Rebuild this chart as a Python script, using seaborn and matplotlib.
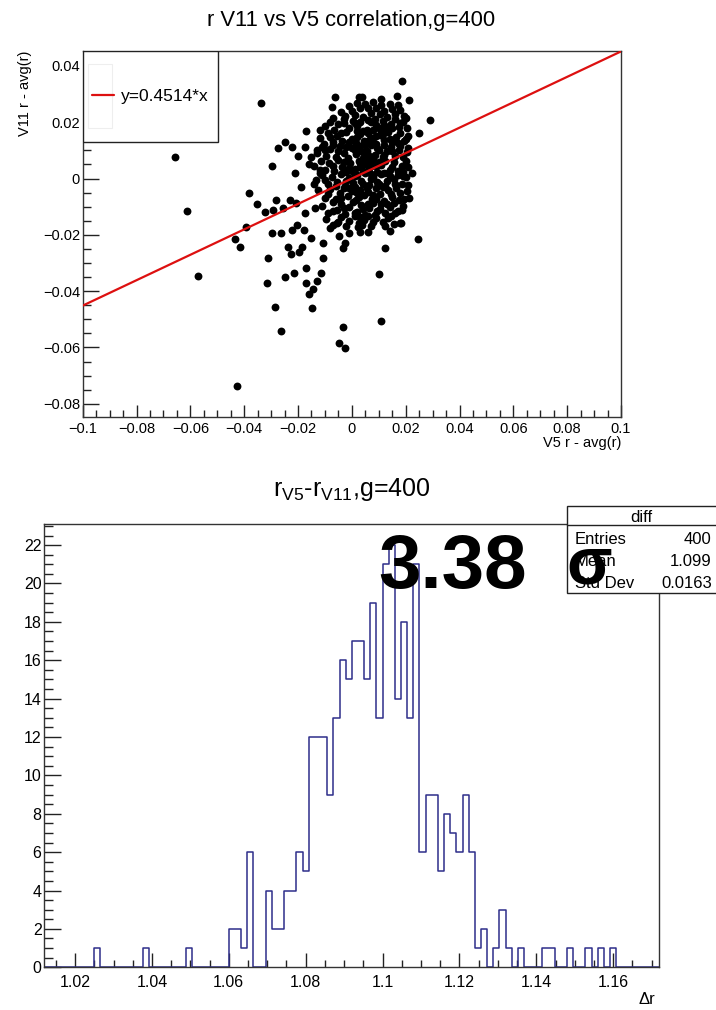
import numpy as np
import pandas as pd
import matplotlib
matplotlib.use("Agg")
import matplotlib.pyplot as plt
import seaborn as sns
from matplotlib.patches import Rectangle
from matplotlib.lines import Line2D
from matplotlib.ticker import MultipleLocator, FuncFormatter

# ---- scatter data: (V5 r - avg(r), V11 r - avg(r)) in units of 1e-3 ----
tail_pts = [
    (-65.8, 7.7), (-33.6, 26.7), (-61.4, -11.4), (-38.2, -5.3), (-35.4, -9.0),
    (-29.6, 4.5), (-27.4, 10.7), (-24.9, 13.1), (-22.4, 11.3), (-17.5, 11.3),
    (-17.1, 17.0), (-15.0, 7.7), (-11.9, 17.2), (-6.3, 29.0), (-7.5, 25.5),
    (-6.9, 21.4), (2.7, 28.8), (-28.0, -7.6), (-32.3, -11.8), (-29.2, -11.2),
    (-25.5, -10.6), (-23.0, -7.6), (-20.6, -8.8), (-17.5, -12.4), (-13.7, -10.6),
    (18.7, 34.6), (3.6, 28.8), (11.0, 28.2), (16.6, 29.4), (21.2, 27.9),
    (29.2, 20.8), (25.0, 16.0), (22.2, 2.1), (21.2, -6.8), (17.8, -15.7),
    (-57.1, -34.5), (-43.5, -21.5), (-41.6, -24.2), (-39.5, -17.3), (-42.8, -73.7),
    (-31.7, -37.2), (-31.3, -28.4), (-29.6, -19.5), (-28.6, -45.8), (-26.4, -19.5),
    (-26.4, -54.2), (-24.9, -34.9), (-23.7, -24.2), (-22.7, -26.8), (-22.4, -18.3),
    (-21.6, -33.7), (-20.2, -16.5), (-19.6, -26.0), (-18.7, -24.2), (-17.7, -18.3),
    (-17.1, -31.9), (-16.9, -37.0), (-16.0, -41.0), (-15.0, -21.2), (-14.8, -46.1),
    (-14.5, -39.4), (-12.8, -36.3), (-11.3, -33.7), (-10.7, -28.4), (-10.7, -23.0),
    (-8.2, -17.7), (-5.7, -15.9), (-4.7, -20.4), (-3.2, -24.8), (-2.6, -23.0),
    (-1.0, -19.5), (-3.2, -52.9), (-4.7, -58.5), (-2.6, -60.1), (2.3, -17.1),
    (3.0, -18.9), (6.1, -18.9), (3.6, -16.5), (14.1, -18.5), (18.2, -15.9),
    (24.4, -21.5), (12.3, -24.6), (10.1, -33.9), (10.8, -50.6),
    (-21.0, 2.0), (-19.0, -3.0), (-16.0, 5.0), (-14.0, -2.0), (-13.0, 10.0),
    (-12.0, 3.0), (-20.0, 8.0),
]

core_pts = [
    (-4, 23.5), (-1, 25.8), (1, 22.6), (3, 24.9), (5, 26.3), (7, 23.1), (9, 25.2),
    (12, 24.0), (14, 26.6), (16, 22.8), (18, 24.4), (19.5, 22.2), (-2.5, 22.1), (10.5, 22.9),
    (-10, 18.5), (-8, 20.1), (-5, 19.2), (-3, 21.3), (-1, 17.8), (0.5, 20.4), (2, 18.6),
    (4, 21.7), (5.5, 17.4), (7, 19.9), (8.5, 21.2), (10, 18.1), (11.5, 20.6), (13, 17.6),
    (14.5, 19.4), (16, 21.0), (17.5, 18.3), (19, 20.2), (20.5, 17.9), (-6.5, 17.2),
    (3, 20.0), (9, 19.0),
    (-12, 14.3), (-9, 16.1), (-7, 12.8), (-5.5, 15.2), (-3.5, 13.4), (-2, 16.6), (0, 14.1),
    (1.5, 12.5), (3, 15.7), (4.5, 13.3), (6, 16.2), (7.5, 14.4), (9, 12.2), (10.5, 15.5),
    (12, 13.7), (13.5, 16.4), (15, 12.9), (16.5, 14.8), (18, 16.0), (19.5, 13.5),
    (21, 15.1), (-10.5, 12.4), (2, 17.0), (8, 13.0), (11, 16.8), (5, 12.0),
    (-13, 9.1), (-11, 11.2), (-9.5, 8.0), (-8, 10.4), (-6, 7.6), (-4.5, 11.6), (-3, 9.2),
    (-1.5, 7.3), (0, 10.8), (1.5, 8.6), (3, 11.4), (4, 7.2), (5.5, 9.9), (7, 11.8),
    (8.5, 8.3), (10, 10.1), (11.5, 7.5), (13, 9.6), (14.5, 11.1), (16, 8.0), (17.5, 10.3),
    (19, 7.7), (20.5, 9.4), (-7, 12.0), (2.5, 9.8), (6, 8.5), (12, 11.9),
    (-14, 4.5), (-11.5, 6.1), (-10, 3.0), (-8.5, 5.4), (-6.5, 2.6), (-5, 6.7), (-3.5, 4.2),
    (-2, 2.3), (-0.5, 5.6), (1, 3.4), (2.5, 6.4), (4, 2.8), (5, 5.1), (6.5, 3.9),
    (8, 6.6), (9.5, 2.4), (11, 4.8), (12.5, 6.2), (14, 3.1), (15.5, 5.7), (17, 2.7),
    (18.5, 4.6), (20, 6.3), (-1, 3.8), (7, 4.5), (3, 4.1), (10, 6.0),
    (-13.5, -0.5), (-11, 1.3), (-9, -2.1), (-7.5, 0.6), (-5.5, -1.4), (-4, 1.7),
    (-2.5, -2.6), (-1, 0.2), (0.5, -1.7), (2, 1.1), (3.5, -0.8), (5, 1.9), (6.5, -2.3),
    (8, 0.4), (9.5, -1.1), (11, 1.6), (12.5, -2.7), (14, 0.9), (15.5, -0.3), (17, 1.4),
    (18.5, -1.9), (20, 0.7), (1, -2.9), (7, 0.0), (13, -1.0),
    (-12.5, -4.2), (-10, -6.8), (-8, -3.6), (-6, -7.4), (-4.5, -5.1), (-3, -3.3),
    (-1.5, -6.2), (0, -4.5), (1.5, -7.7), (3, -3.9), (4.5, -6.0), (6, -4.8), (7.5, -7.1),
    (9, -3.4), (10.5, -5.6), (12, -7.9), (13.5, -4.1), (15, -6.5), (16.5, -3.2),
    (18, -5.3), (19.5, -7.3), (2, -5.0), (8, -6.0),
    (-11, -9.6), (-9, -12.3), (-7, -8.5), (-5.5, -11.0), (-4, -9.0), (-2.5, -12.6),
    (-1, -10.2), (0.5, -8.3), (2, -11.8), (3.5, -9.4), (5, -12.9), (6.5, -10.5),
    (8, -8.8), (9.5, -11.4), (11, -9.1), (12.5, -12.2), (14, -10.0), (15.5, -8.6),
    (17, -11.6), (19, -9.8), (4, -10.8),
    (-9.5, -14.2), (-7, -16.4), (-4, -13.8), (-1, -15.1), (1, -13.4), (4.5, -14.7),
    (7, -16.9), (9, -13.9), (11.5, -15.6), (13.5, -14.0), (15.5, -16.3), (6, -13.2),
]

# extra points in the dense centre of the cloud
dense_pts = [
    (0, 24), (2, 26.8), (6, 25.0), (8, 27.2), (11, 26.0), (13, 22.0), (15, 24.8),
    (17, 26.2), (-3, 19.8), (1, 19.6), (6, 20.8), (8, 17.1), (12, 19.0), (15, 17.8),
    (18, 19.8), (20, 21.5),
    (-8, 14.9), (-4, 16.0), (-1, 12.8), (2, 14.6), (4, 16.8), (6.5, 13.8), (9, 15.0),
    (12, 16.0), (14, 13.9), (17, 12.6), (20, 14.2),
    (-10, 10.0), (-5, 9.6), (-2, 11.3), (1, 10.2), (4, 9.4), (7, 7.8), (9.5, 11.0),
    (12, 8.4), (15, 9.8), (18, 11.5), (21, 11.0),
    (-12, 2.0), (-7, 4.6), (-3, 6.0), (0, 2.5), (3, 5.6), (6, 6.1), (9, 4.3),
    (12, 2.0), (15, 4.0), (19, 2.4), (21, 4.2),
    (-10, -0.5), (-6, -2.8), (-2, -0.8), (1, 0.9), (4, -2.0), (7, 1.5), (10, -2.0),
    (13.5, 1.8), (16, -1.8), (19, 0.8), (21, -2.3),
    (-9, -5.4), (-4, -7.0), (-1, -3.2), (2.5, -6.6), (5.5, -3.2), (9, -7.2),
    (11.5, -3.0), (14.5, -5.6), (17.5, -7.6), (20.5, -4.5),
    (-7, -11.5), (-3, -10.4), (1, -12.4), (3, -13.5), (6, -9.0), (8.5, -12.8),
    (10.5, -10.8), (13, -9.0), (16, -12.3), (18.5, -11.0),
    (-5, -15.5), (-2, -17.0), (2.5, -15.8), (8, -15.5), (12.5, -17.0), (14.5, -13.4),
]

fit_slope = 0.4514
fit_range = [-0.1, 0.1]

# ---- histogram of r_V5 - r_V11 ----
hist_lo, hist_hi, n_bins = 1.012, 1.172, 100
hist_counts = [
    0, 0, 0, 0, 0, 0, 0, 0, 1, 0,
    0, 0, 0, 0, 0, 0, 1, 0, 0, 0,
    0, 0, 0, 1, 0, 0, 0, 0, 0, 0,
    2, 2, 1, 6, 0, 0, 4, 2, 2, 4,
    4, 6, 5, 12, 12, 12, 9, 13, 16, 15,
    17, 17, 15, 19, 13, 21, 22, 14, 18, 13,
    21, 6, 9, 9, 5, 8, 7, 6, 9, 6,
    1, 2, 0, 1, 3, 1, 0, 1, 0, 0,
    0, 1, 1, 0, 0, 1, 0, 0, 1, 0,
    1, 0, 1, 0, 0, 0, 0, 0, 0, 0,
]
stats_entries = 400
stats_mean = 1.099
stats_std = 0.0163
significance = 3.38

sns.set_theme(style="white")
plt.rcParams['font.family'] = ['Liberation Sans', 'DejaVu Sans']
plt.rcParams['mathtext.fontset'] = 'custom'
plt.rcParams['mathtext.rm'] = 'Liberation Sans'
plt.rcParams['mathtext.it'] = 'Liberation Sans'
plt.rcParams['axes.unicode_minus'] = True
for key in ['text.color', 'axes.labelcolor', 'xtick.color', 'ytick.color',
            'xtick.labelcolor', 'ytick.labelcolor']:
    plt.rcParams[key] = 'black'


def root_fmt(v, pos):
    s = f"{round(v, 6) + 0:g}"
    return s.replace('-', '\u2212')


def root_axes(ax, xmaj, xmin, ymaj, ymin, xlen, ylen, lsize, xpad, ypad):
    ax.xaxis.set_major_locator(MultipleLocator(xmaj))
    ax.xaxis.set_minor_locator(MultipleLocator(xmin))
    ax.yaxis.set_major_locator(MultipleLocator(ymaj))
    ax.yaxis.set_minor_locator(MultipleLocator(ymin))
    ax.xaxis.set_major_formatter(FuncFormatter(root_fmt))
    ax.yaxis.set_major_formatter(FuncFormatter(root_fmt))
    ax.tick_params(which='both', direction='in', top=False, right=False,
                   bottom=True, left=True, color='#222222', width=1,
                   labelsize=lsize, labelcolor='black')
    ax.tick_params(axis='x', which='major', length=xlen[0], pad=xpad)
    ax.tick_params(axis='x', which='minor', length=xlen[1])
    ax.tick_params(axis='y', which='major', length=ylen[0], pad=ypad)
    ax.tick_params(axis='y', which='minor', length=ylen[1])
    for sp in ax.spines.values():
        sp.set_visible(True)
        sp.set_color('#333333')
        sp.set_linewidth(1.0)
    ax.set_facecolor('white')


fig = plt.figure(figsize=(7.16, 10.10), dpi=100)

# ---- top: scatter with linear fit ----
ax1 = fig.add_axes([0.1155, 0.5874, 0.7518, 0.3624])
all_pts = tail_pts + core_pts + dense_pts
v5_dev = np.array([p[0] for p in all_pts]) / 1000.0
v11_dev = np.array([p[1] for p in all_pts]) / 1000.0
sns.scatterplot(x=v5_dev, y=v11_dev, color='black', s=32, linewidth=0,
                ax=ax1, zorder=2)
fit_x = np.array(fit_range)
sns.lineplot(x=fit_x, y=fit_slope * fit_x, color='#dd1010', linewidth=1.6,
             ax=ax1, zorder=3, legend=False)
ax1.set_xlim(-0.1, 0.1)
ax1.set_ylim(-0.0846, 0.0454)
root_axes(ax1, 0.02, 0.005, 0.02, 0.005, (8.6, 5.0), (11.5, 5.8), 10.5, 4.0, 2.0)

ax1.set_xlabel("V5 r - avg(r)", fontsize=10.5, loc='right')
ax1.xaxis.set_label_coords(1.0, -0.054)
ax1.set_ylabel("V11 r - avg(r)", fontsize=10.5, loc='top')
ax1.yaxis.set_label_coords(-0.094, 1.0)

# legend box in the ROOT style
ax1.add_patch(Rectangle((0, 0.7505), 0.2513, 0.2495, transform=ax1.transAxes,
                        facecolor='white', edgecolor='#222222', lw=1.0,
                        zorder=4))
ax1.add_patch(Rectangle((0.0105, 0.789), 0.0435, 0.175, transform=ax1.transAxes,
                        facecolor='none', edgecolor='#eeeeee', lw=0.8,
                        zorder=4.5))
fit_line = ax1.get_lines()[0]
leg_handle = Line2D([], [], color=fit_line.get_color(), lw=1.6)
leg = ax1.legend(handles=[leg_handle], labels=[f"y={fit_slope}*x"],
                 loc='center', bbox_to_anchor=(0.0, 0.7505, 0.2513, 0.2495),
                 bbox_transform=ax1.transAxes, frameon=False, fontsize=12.5,
                 handlelength=1.3, handletextpad=0.4, borderaxespad=0,
                 borderpad=0)
leg.set_zorder(5)

fig.text(0.491, 0.980, "r V11 vs V5 correlation,g=400", ha='center',
         va='center', fontsize=15.8)

# ---- bottom: histogram ----
ax2 = fig.add_axes([0.0619, 0.0423, 0.8589, 0.4389])
edges = np.linspace(hist_lo, hist_hi, n_bins + 1)
hist_df = pd.DataFrame({
    "r": 0.5 * (edges[:-1] + edges[1:]),
    "n": hist_counts,
})
sns.histplot(data=hist_df, x="r", weights="n", bins=list(edges),
             element='step', fill=False, color='#2e2e8a', linewidth=1.1,
             ax=ax2)
ax2.set_xlim(hist_lo, hist_hi)
ax2.set_ylim(0, 23.1)
root_axes(ax2, 0.02, 0.005, 2, 0.5, (10, 5), (12.5, 6.5), 11.5, 5.5, 2.0)
ax2.set_ylabel("")
ax2.set_xlabel("\u0394r", fontsize=12, loc='right')
ax2.xaxis.set_label_coords(0.993, -0.055)

fig.text(0.491, 0.515, r"$\mathrm{r_{V5}}$-$\mathrm{r_{V11}}$,g=400",
         ha='center', va='center', fontsize=18)

# stats box
bx0, by0, bw, bh = 0.7923, 0.4126, 0.2200, 0.0867
fig.add_artist(Rectangle((bx0, by0), bw, bh, transform=fig.transFigure,
                         facecolor='white', edgecolor='#222222', lw=1.0,
                         zorder=5))
fig.add_artist(Line2D([bx0, bx0 + bw], [0.4802, 0.4802],
                      transform=fig.transFigure, color='#222222', lw=1.0,
                      zorder=5))
fig.text(0.8962, 0.4878, "diff", ha='center', va='center', fontsize=12,
         zorder=6)
rows = [("Entries", f"{stats_entries}", 0.4660),
        ("Mean", f"{stats_mean}", 0.4439),
        ("Std Dev", f"{stats_std}", 0.4225)]
for name, val, yy in rows:
    fig.text(0.8031, yy, name, ha='left', va='center', fontsize=12, zorder=6)
    fig.text(0.994, yy, val, ha='right', va='center', fontsize=12, zorder=6)

# significance label: number and sigma sign
fig.text(0.528, 0.4175, f"{significance}", ha='left', va='baseline',
         fontsize=55, fontweight='bold', zorder=7)
fig.text(0.7905, 0.4223, "\u03c3", ha='left', va='baseline',
         fontsize=48, fontweight='bold', zorder=7)

fig.savefig("out.png", dpi=100, facecolor='white')
